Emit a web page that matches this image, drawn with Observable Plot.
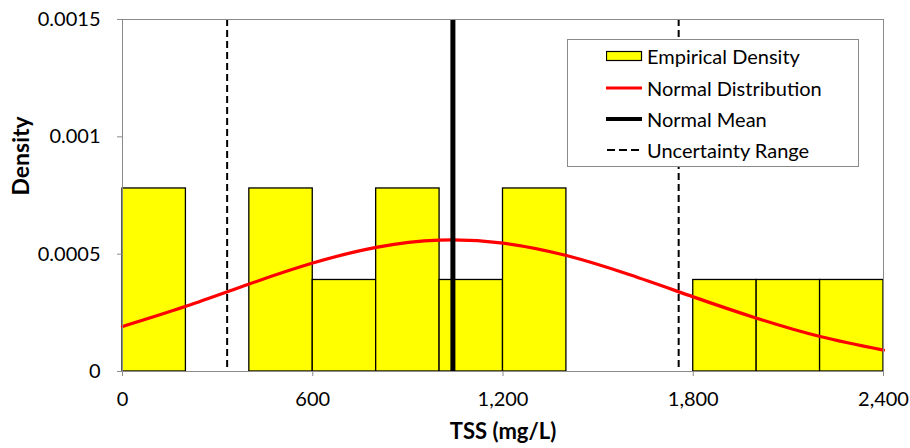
<!DOCTYPE html>
<html>
<head>
<meta charset="utf-8">
<script src="https://cdn.jsdelivr.net/npm/d3@7"></script>
<script src="https://cdn.jsdelivr.net/npm/@observablehq/plot@0.6"></script>
<style>
  html, body { margin: 0; padding: 0; background: #fff; }
  #wrap { position: relative; width: 910px; height: 448px; font-family: Lato, "Open Sans", sans-serif; }
  #legend { position: absolute; left: 567px; top: 39px; width: 290px; height: 126px;
    border: 1px solid #8a8a8a; background: #fff; }
  .item { position: absolute; left: 38px; height: 20px; display: flex; align-items: center;
    font-size: 20px; color: #000; white-space: nowrap; }
  .item svg { margin-right: 4px; flex: none; }
</style>
</head>
<body>
<div id="wrap"></div>
<script>
// Histogram bins (TSS mg/L) and empirical densities
const binStart = [0, 400, 600, 800, 1000, 1200, 1800, 2000, 2200];
const binEnd   = [200, 600, 800, 1000, 1200, 1400, 2000, 2200, 2400];
const binDensity = [0.00078, 0.00078, 0.00039, 0.00078, 0.00039, 0.00078, 0.00039, 0.00039, 0.00039];

// Normal distribution curve
const curveX = [0, 200, 400, 600, 800, 1000, 1200, 1400, 1600, 1800, 2000, 2200, 2400];
const curveY = [0.000192, 0.000278, 0.000373, 0.000462, 0.000529, 0.000560, 0.000547, 0.000494, 0.000412, 0.000318, 0.000227, 0.000149, 0.0000909];

// Normal mean and uncertainty range
const meanValue = [1042];
const rangeValues = [330, 1754];

// Axis ticks
const xTicks = [0, 600, 1200, 1800, 2400];
const yTicks = [0, 0.0005, 0.001, 0.0015];
const yTickLabels = ["0", "0.0005", "0.001", "0.0015"];

const bins = binStart.map((s, i) => ({x1: s, x2: binEnd[i], y: binDensity[i]}));
const curve = curveX.map((x, i) => ({x, y: curveY[i]}));

const chart = Plot.plot({
  width: 910,
  height: 448,
  marginLeft: 122,
  marginRight: 27,
  marginTop: 19,
  marginBottom: 77,
  style: {fontFamily: "Lato, 'Open Sans', sans-serif", fontSize: "20px", background: "#fff", color: "#000"},
  x: {domain: [0, 2400]},
  y: {domain: [0, 0.0015]},
  marks: [
    Plot.rectY(bins, {x1: "x1", x2: "x2", y: "y", fill: "#ffff00", stroke: "#000", strokeWidth: 1.3}),
    Plot.line(curve, {x: "x", y: "y", stroke: "#ff0000", strokeWidth: 3.2, curve: "natural"}),
    Plot.ruleX(rangeValues, {stroke: "#000", strokeWidth: 2, strokeDasharray: "7,4"}),
    Plot.ruleX(meanValue, {stroke: "#000", strokeWidth: 5}),
    Plot.frame({stroke: "#8a8a8a", strokeWidth: 1}),
    Plot.axisY({ticks: yTicks, tickFormat: (d) => yTickLabels[yTicks.indexOf(d)], tickSize: 5, tickPadding: 17,
      stroke: "#8a8a8a", fill: "#000", fontSize: 20, label: null}),
    Plot.axisX({ticks: xTicks, tickFormat: d3.format(","), tickSize: 5, tickPadding: 15,
      stroke: "#8a8a8a", fill: "#000", fontSize: 20, label: null}),
    Plot.text(["TSS (mg/L)"], {frameAnchor: "bottom", dy: 67, fontWeight: "bold", fontSize: 22, fill: "#000"}),
    Plot.text(["Density"], {frameAnchor: "left", dx: -101, rotate: -90, fontWeight: "bold", fontSize: 23, fill: "#000"})
  ]
});

const wrap = document.getElementById("wrap");
wrap.appendChild(chart);

// Legend
const legendItems = [
  {label: "Empirical Density", kind: "rect"},
  {label: "Normal Distribution", kind: "red"},
  {label: "Normal Mean", kind: "black"},
  {label: "Uncertainty Range", kind: "dash"}
];
const legendTops = [6, 38, 69, 100];
const legend = document.createElement("div");
legend.id = "legend";
legendItems.forEach((it, i) => {
  const row = document.createElement("div");
  row.className = "item";
  row.style.top = legendTops[i] + "px";
  let sw = "";
  if (it.kind === "rect") sw = '<rect x="0.5" y="5.5" width="35" height="9" fill="#ffff00" stroke="#000" stroke-width="1.2"/>';
  if (it.kind === "red") sw = '<line x1="0" x2="36" y1="10" y2="10" stroke="#ff0000" stroke-width="3"/>';
  if (it.kind === "black") sw = '<line x1="0" x2="36" y1="10" y2="10" stroke="#000" stroke-width="4"/>';
  if (it.kind === "dash") sw = '<line x1="1" x2="36" y1="10" y2="10" stroke="#000" stroke-width="2.2" stroke-dasharray="8,4"/>';
  row.innerHTML = '<svg width="37" height="20">' + sw + '</svg><span>' + it.label + '</span>';
  legend.appendChild(row);
});
wrap.appendChild(legend);
</script>
</body>
</html>
